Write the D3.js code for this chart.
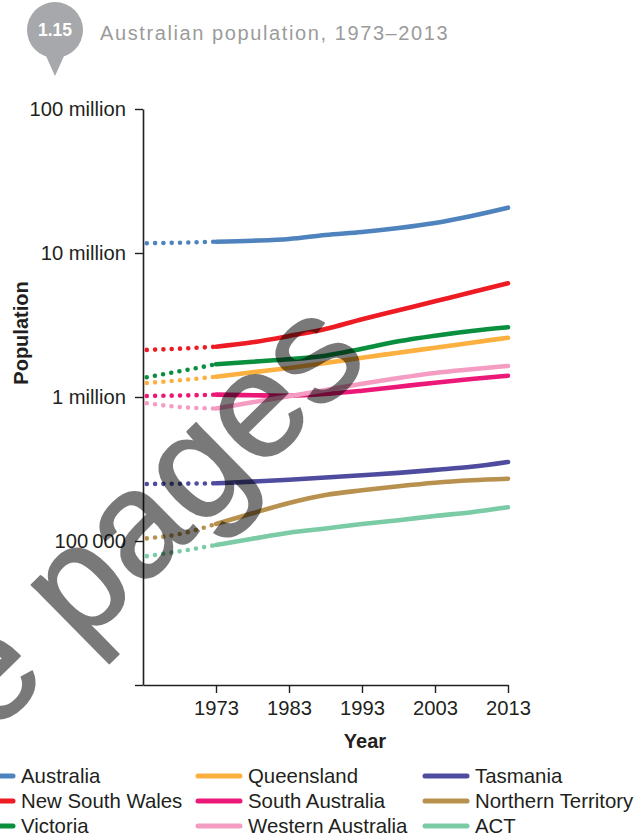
<!DOCTYPE html>
<html>
<head>
<meta charset="utf-8">
<script src="https://cdn.jsdelivr.net/npm/d3@7"></script>
<style>
  html, body { margin: 0; padding: 0; background: #fff; }
  svg { display: block; font-family: "Liberation Sans", Arial, Helvetica, sans-serif; }
</style>
</head>
<body>
<svg id="chart" width="644" height="838"></svg>
<script>
// Years sampled (1963–1973 is drawn dotted, 1973–2013 solid)
const years = [1963, 1968, 1973, 1978, 1983, 1988, 1993, 1998, 2003, 2008, 2013];
const solidFrom = 1973;

// Population, millions
const australia        = [11.68, 11.79, 11.98, 12.17, 12.51, 13.34, 13.99, 14.91, 16.16, 18.07, 20.63];
const newSouthWales    = [2.12, 2.165, 2.236, 2.398, 2.652, 2.966, 3.464, 4.0, 4.619, 5.335, 6.16];
const victoria         = [1.355, 1.509, 1.687, 1.759, 1.827, 1.936, 2.165, 2.437, 2.665, 2.873, 3.048];
const queensland       = [1.245, 1.306, 1.384, 1.484, 1.59, 1.722, 1.875, 2.03, 2.2, 2.383, 2.581];
const southAustralia   = [1.016, 1.024, 1.038, 1.028, 1.021, 1.049, 1.106, 1.179, 1.257, 1.334, 1.406];
const westernAustralia = [0.913, 0.852, 0.832, 0.919, 1.011, 1.119, 1.237, 1.355, 1.468, 1.557, 1.642];
const tasmania         = [0.2488, 0.25, 0.2516, 0.2585, 0.2665, 0.276, 0.2863, 0.2972, 0.3117, 0.3275, 0.354];
const northernTerritory= [0.1037, 0.1118, 0.1313, 0.1557, 0.1836, 0.2087, 0.225, 0.2402, 0.254, 0.264, 0.2708];
const act              = [0.0778, 0.0848, 0.0938, 0.1037, 0.1142, 0.1221, 0.1311, 0.1394, 0.1492, 0.1585, 0.1714];

const seriesNames  = ["Australia", "New South Wales", "Victoria", "Queensland", "South Australia",
                      "Western Australia", "Tasmania", "Northern Territory", "ACT"];
const seriesValues = [australia, newSouthWales, victoria, queensland, southAustralia,
                      westernAustralia, tasmania, northernTerritory, act];
const seriesColors = ["#4f83bd", "#ed1c24", "#0a8f3f", "#fbb040", "#ec1877",
                      "#f59cc3", "#4f4c9f", "#b8914f", "#7acba6"];

// Axis ticks
const xTickValues = [1973, 1983, 1993, 2003, 2013];
const yTickValues = [1e4, 1e5, 1e6, 1e7, 1e8];
const yTickLabels = ["", "100\u2009000", "1 million", "10 million", "100 million"];

const titleNumber = "1.15";
const titleText = "Australian population, 1973\u20132013";

const svg = d3.select("#chart");
const ink = "#231f20";

const x = d3.scaleLinear().domain([1963, 2013]).range([143, 508]);
const y = d3.scaleLog().domain([1e4, 1e8]).range([685, 109]);

// Title badge
const badge = svg.append("g");
badge.append("path")
  .attr("d", "M46,56 L55,76 L64,56 Z")
  .attr("fill", "#a6a8ab");
badge.append("circle").attr("cx", 55).attr("cy", 30).attr("r", 28).attr("fill", "#a6a8ab");
badge.append("text")
  .attr("x", 55).attr("y", 36)
  .attr("text-anchor", "middle")
  .attr("fill", "#fff")
  .attr("font-weight", "bold")
  .attr("font-size", 17.5)
  .text(titleNumber);
svg.append("text")
  .attr("x", 100).attr("y", 40)
  .attr("fill", "#9b9b9b")
  .attr("font-size", 20)
  .attr("letter-spacing", 1.6)
  .text(titleText);

// Axes
const yAxis = svg.append("g")
  .attr("transform", `translate(${x(1963)},0)`)
  .call(d3.axisLeft(y).tickValues(yTickValues)
    .tickFormat((d, i) => yTickLabels[i])
    .tickSize(8).tickSizeOuter(0).tickPadding(9));

const xAxis = svg.append("g")
  .attr("transform", `translate(0,${y(1e4)})`)
  .call(d3.axisBottom(x).tickValues(xTickValues)
    .tickFormat(d3.format("d"))
    .tickSize(8).tickSizeOuter(0).tickPadding(8));

[yAxis, xAxis].forEach(g => {
  g.select(".domain").attr("stroke", ink).attr("stroke-width", 1.6);
  g.selectAll(".tick line").attr("stroke", ink).attr("stroke-width", 1.4);
  g.selectAll(".tick text").attr("fill", ink).attr("font-size", 20.2)
    .attr("font-family", "'Liberation Sans', Arial, sans-serif");
});

svg.append("text")
  .attr("transform", "translate(28,333) rotate(-90)")
  .attr("text-anchor", "middle")
  .attr("font-weight", "bold")
  .attr("font-size", 20)
  .attr("fill", ink)
  .text("Population");

svg.append("text")
  .attr("x", 365).attr("y", 748)
  .attr("text-anchor", "middle")
  .attr("font-weight", "bold")
  .attr("font-size", 20)
  .attr("fill", ink)
  .text("Year");

// Lines
const line = d3.line()
  .x(d => x(d.year))
  .y(d => y(d.value * 1e6))
  .curve(d3.curveMonotoneX);

const linesG = svg.append("g");
seriesValues.forEach((vals, i) => {
  const pts = years.map((yr, j) => ({ year: yr, value: vals[j] }));
  linesG.append("path")
    .datum(pts.filter(d => d.year <= solidFrom))
    .attr("d", line)
    .attr("fill", "none")
    .attr("stroke", seriesColors[i])
    .attr("stroke-width", 4.6)
    .attr("stroke-linecap", "round")
    .attr("stroke-dasharray", "0 8.3")
    .attr("stroke-dashoffset", -3.8);
  linesG.append("path")
    .datum(pts.filter(d => d.year >= solidFrom))
    .attr("d", line)
    .attr("fill", "none")
    .attr("stroke", seriesColors[i])
    .attr("stroke-width", 4.6)
    .attr("stroke-linecap", "round");
});

// Legend, three columns
const legend = svg.append("g");
seriesNames.forEach((name, i) => {
  const col = Math.floor(i / 3), row = i % 3;
  const lx = 21 + col * 227, ly = 776 + row * 25;
  legend.append("line")
    .attr("x1", lx - 50).attr("x2", lx - 8)
    .attr("y1", ly).attr("y2", ly)
    .attr("stroke", seriesColors[i])
    .attr("stroke-width", 5)
    .attr("stroke-linecap", "round");
  legend.append("text")
    .attr("x", lx).attr("y", ly + 7)
    .attr("font-size", 20.4)
    .attr("fill", ink)
    .text(name);
});

// Sample watermark
svg.append("text")
  .attr("transform", "translate(199,477) rotate(-44.5)")
  .attr("x", 204).attr("y", 39)
  .attr("text-anchor", "end")
  .attr("font-size", 150)
  .attr("fill", "#000")
  .attr("stroke", "#000")
  .attr("stroke-width", 2)
  .attr("stroke-linejoin", "round")
  .attr("opacity", 0.52)
  .text("Sample pages");
</script>
</body>
</html>
